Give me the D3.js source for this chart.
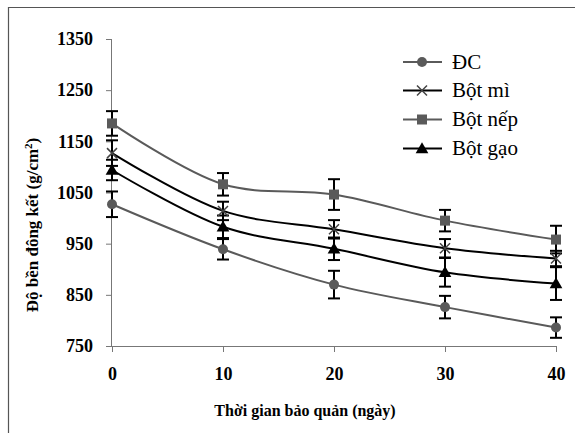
<!DOCTYPE html>
<html><head><meta charset="utf-8">
<script src="https://cdn.jsdelivr.net/npm/d3@7"></script>
<style>body{margin:0;background:#fff}svg{display:block}
svg text{font-family:"Liberation Serif","DejaVu Serif",serif}</style>
</head><body>
<svg id="c" width="575" height="433"></svg>
<script>
const days = [0, 10, 20, 30, 40];
const yTicks = [750, 850, 950, 1050, 1150, 1250, 1350];
const seriesNames = ["ĐC", "Bột mì", "Bột nếp", "Bột gạo"];
const dcValues   = [1027, 939, 870, 826, 786];
const miValues   = [1127, 1014, 978, 941, 921];
const nepValues  = [1185, 1066, 1046, 995, 958];
const gaoValues  = [1094, 983, 940, 894, 872];
const dcErr  = [25, 20, 27, 22, 20];
const miErr  = [25, 18, 18, 18, 15];
const nepErr = [24, 22, 30, 21, 27];
const gaoErr = [20, 22, 22, 28, 32];

const series = [
  {name: seriesNames[0], v: dcValues,  e: dcErr,  color: "#5a5a5a", sym: "circle"},
  {name: seriesNames[1], v: miValues,  e: miErr,  color: "#000",    sym: "x"},
  {name: seriesNames[2], v: nepValues, e: nepErr, color: "#5a5a5a", sym: "square"},
  {name: seriesNames[3], v: gaoValues, e: gaoErr, color: "#000",    sym: "triangle"}
];

const svg = d3.select("#c");

// frame
svg.append("path").attr("d", "M8.5,433 V7.5 H575").attr("fill", "none").attr("stroke", "#555").attr("stroke-width", 1.2);

const x = d3.scaleLinear().domain([0, 40]).range([112, 556]);
const y = d3.scaleLinear().domain([750, 1350]).range([346, 39]);

// y axis
const ya = svg.append("g").attr("transform", "translate(112,0)")
  .call(d3.axisLeft(y).tickValues(yTicks).tickSize(6).tickPadding(13).tickFormat(d3.format("d")));
ya.attr("font-family", null);
ya.select(".domain").attr("stroke", "#777").attr("d", "M-0.5,39.5 V346.5");
ya.selectAll(".tick line").attr("stroke", "#777").attr("stroke-width", 1);
ya.selectAll("text").attr("font-weight", "bold").attr("font-size", 18).attr("fill", "#000");

// x axis
const xa = svg.append("g").attr("transform", "translate(0,346)")
  .call(d3.axisBottom(x).tickValues(days).tickSize(6).tickPadding(15).tickFormat(d3.format("d")));
xa.attr("font-family", null);
xa.select(".domain").attr("stroke", "#777").attr("d", "M106,0.5 H556.5");
xa.selectAll(".tick line").attr("stroke", "#777");
xa.selectAll("text").attr("font-weight", "bold").attr("font-size", 18).attr("fill", "#000");

// titles
svg.append("text").attr("transform", "translate(38,225) rotate(-90)").attr("text-anchor", "middle")
  .attr("font-weight", "bold").attr("font-size", 17)
  .html("Độ bền đông kết (g/cm<tspan baseline-shift='super' font-size='11'>2</tspan>)");
svg.append("text").attr("x", 305).attr("y", 416).attr("text-anchor", "middle")
  .attr("font-weight", "bold").attr("font-size", 16)
  .text("Thời gian bảo quản (ngày)");

const line = d3.line().x((d, i) => x(days[i])).y(d => y(d)).curve(d3.curveCatmullRom.alpha(0.5));

function drawSym(g, sym, cx, cy, color) {
  if (sym === "circle") g.append("circle").attr("cx", cx).attr("cy", cy).attr("r", 5).attr("fill", color);
  else if (sym === "square") g.append("rect").attr("x", cx - 5).attr("y", cy - 5).attr("width", 10).attr("height", 10).attr("fill", color);
  else if (sym === "triangle") g.append("path").attr("d", d3.symbol(d3.symbolTriangle, 70)()).attr("transform", `translate(${cx},${cy + 1})`).attr("fill", color);
  else if (sym === "x") g.append("path").attr("d", `M${cx-5},${cy-5}L${cx+5},${cy+5}M${cx-5},${cy+5}L${cx+5},${cy-5}`).attr("stroke", "#444").attr("stroke-width", 1.5);
}

series.forEach(s => {
  svg.append("path").attr("d", line(s.v)).attr("fill", "none").attr("stroke", s.color).attr("stroke-width", 2);
});
// error bars
series.forEach(s => {
  const g = svg.append("g").attr("stroke", "#000").attr("stroke-width", 2);
  s.v.forEach((v, i) => {
    const cx = x(days[i]);
    const y1 = y(v + s.e[i]), y2 = y(v - s.e[i]);
    g.append("line").attr("x1", cx).attr("x2", cx).attr("y1", y1).attr("y2", y2);
    g.append("line").attr("x1", cx - 6).attr("x2", cx + 6).attr("y1", y1).attr("y2", y1);
    g.append("line").attr("x1", cx - 6).attr("x2", cx + 6).attr("y1", y2).attr("y2", y2);
  });
});
series.forEach(s => {
  const g = svg.append("g");
  s.v.forEach((v, i) => drawSym(g, s.sym, x(days[i]), y(v), s.color));
});

// legend
const legendY = [62, 90.5, 119.5, 148.5];
series.forEach((s, i) => {
  const ly = legendY[i];
  const g = svg.append("g");
  g.append("line").attr("x1", 403).attr("x2", 442).attr("y1", ly).attr("y2", ly).attr("stroke", s.color).attr("stroke-width", 2);
  drawSym(g, s.sym, 422, ly, s.color);
  g.append("text").attr("x", 452).attr("y", ly + 6.5).attr("font-size", 21).attr("fill", "#000").text(s.name);
});
</script>
</body></html>
